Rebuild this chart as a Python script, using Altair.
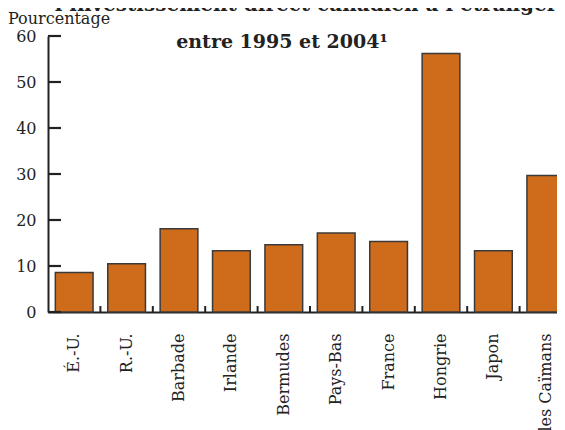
import altair as alt
import pandas as pd

pays = ["É.-U.", "R.-U.", "Barbade", "Irlande", "Bermudes", "Pays-Bas",
        "France", "Hongrie", "Japon", "Îles Caïmans"]
valeurs = [8.6, 10.5, 18.1, 13.3, 14.6, 17.2, 15.3, 56.2, 13.3, 29.7]
graduations = [0, 10, 20, 30, 40, 50, 60]
titre_1 = "l’investissement direct canadien à l’étranger"
titre_2 = "entre 1995 et 2004¹"
titre_y = "Pourcentage"

df = pd.DataFrame({"pays": pays, "valeur": valeurs})
ticks_df = pd.DataFrame({"v": graduations})

FONT = "DejaVu Serif"
INK = "#222222"
yscale = alt.Scale(domain=[0, 60], nice=False, zero=True)
xscale = alt.Scale(paddingInner=0.28, paddingOuter=0.14)

bars = alt.Chart(df).mark_bar(
    fill="#CE6C1C", stroke="#3a3a3a", strokeWidth=1.5
).encode(
    x=alt.X("pays:N", sort=pays, scale=xscale,
            axis=alt.Axis(title=None, labelAngle=-90, ticks=False,
                          labelPadding=21, labelFont=FONT, labelFontSize=16,
                          labelColor=INK, domainColor=INK, domainWidth=2,
                          labelLimit=300)),
    y=alt.Y("valeur:Q", scale=yscale,
            axis=alt.Axis(title=None, values=graduations, ticks=False,
                          grid=False, labelPadding=12, labelFont=FONT,
                          labelFontSize=16, labelColor=INK,
                          domainColor=INK, domainWidth=2)),
)

yticks = alt.Chart(ticks_df).mark_rule(color=INK, strokeWidth=2.2).encode(
    y=alt.Y("v:Q", scale=yscale),
    x=alt.value(0),
    x2=alt.value(13),
)

xticks = alt.Chart(df).mark_rule(color=INK, strokeWidth=2, xOffset=26.2).encode(
    x=alt.X("pays:N", sort=pays, scale=xscale),
    y=alt.value(270),
    y2=alt.value(276),
)

t_y = alt.Chart(pd.DataFrame({"t": [titre_y]})).mark_text(
    font=FONT, fontSize=16, color=INK, align="left", baseline="alphabetic"
).encode(x=alt.value(-40), y=alt.value(-12), text="t:N")

t_1 = alt.Chart(pd.DataFrame({"t": [titre_1]})).mark_text(
    font=FONT, fontSize=20, fontWeight="bold", color=INK, align="center",
    baseline="alphabetic"
).encode(x=alt.value(258), y=alt.value(-25), text="t:N")

t_2 = alt.Chart(pd.DataFrame({"t": [titre_2]})).mark_text(
    font=FONT, fontSize=19, fontWeight="bold", color=INK, align="center",
    baseline="alphabetic"
).encode(x=alt.value(234), y=alt.value(12), text="t:N")

chart = alt.layer(bars, yticks, xticks, t_y, t_1, t_2).properties(
    width=524, height=276,
    padding={"left": 40, "top": 28, "right": -15, "bottom": 120},
    autosize=alt.AutoSizeParams(type="none"),
).configure_view(stroke=None)

chart.save("out.html", embed_options={"renderer": "svg", "actions": False})
